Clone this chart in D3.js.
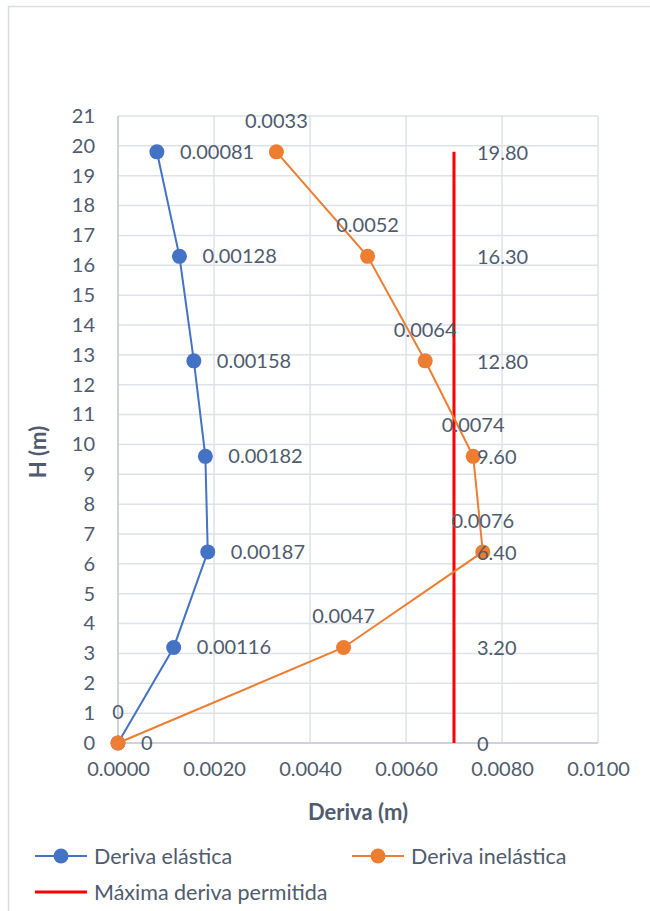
<!DOCTYPE html>
<html><head><meta charset="utf-8">
<script src="https://cdn.jsdelivr.net/npm/d3@7"></script>
<style>body{margin:0;background:#fff;} svg{display:block;}</style>
</head><body>
<svg id="c" width="650" height="911"></svg>
<script>
const heights = [0, 3.2, 6.4, 9.6, 12.8, 16.3, 19.8];
const derivaElastica = [0, 0.00116, 0.00187, 0.00182, 0.00158, 0.00128, 0.00081];
const derivaInelastica = [0, 0.0047, 0.0076, 0.0074, 0.0064, 0.0052, 0.0033];
const derivaMaxima = 0.007;
const elasticLabels = ["0", "0.00116", "0.00187", "0.00182", "0.00158", "0.00128", "0.00081"];
const inelasticLabels = ["0", "0.0047", "0.0076", "0.0074", "0.0064", "0.0052", "0.0033"];
const maxLabels = ["0", "3.20", "6.40", "9.60", "12.80", "16.30", "19.80"];
const xTicks = [0, 0.002, 0.004, 0.006, 0.008, 0.010];
const yTicks = d3.range(0, 22);
const seriesNames = ["Deriva elástica", "Deriva inelástica", "Máxima deriva permitida"];

const FONT = "Lato, 'Open Sans', sans-serif";
const TXT = "#4f5b6e";
const BLUE = "#4472c4", ORANGE = "#ed7d31", RED = "#ff0000";

const svg = d3.select("#c");
svg.append("rect").attr("x", 8.5).attr("y", 6.5).attr("width", 700).attr("height", 1000)
  .attr("fill", "#fff").attr("stroke", "#d9dde3").attr("stroke-width", 1.5);

const x = d3.scaleLinear().domain([0, 0.01]).range([118, 598]);
const y = d3.scaleLinear().domain([0, 21]).range([743, 116]);

// gridlines
const g = svg.append("g");
g.selectAll(".hg").data(yTicks).join("line")
  .attr("x1", x(0)).attr("x2", x(0.01)).attr("y1", d => y(d)).attr("y2", d => y(d))
  .attr("stroke", "#dde1e8").attr("stroke-width", 1.5);
g.selectAll(".vg").data(xTicks).join("line")
  .attr("x1", d => x(d)).attr("x2", d => x(d)).attr("y1", y(0)).attr("y2", y(21))
  .attr("stroke", "#dde1e8").attr("stroke-width", 1.5);
// axis lines
svg.append("line").attr("x1", x(0)).attr("x2", x(0)).attr("y1", y(0)).attr("y2", y(21))
  .attr("stroke", "#c5cbd5").attr("stroke-width", 1.5);
svg.append("line").attr("x1", x(0)).attr("x2", x(0.01)).attr("y1", y(0)).attr("y2", y(0))
  .attr("stroke", "#c5cbd5").attr("stroke-width", 1.5);

// axes tick labels
const xAxis = d3.axisBottom(x).tickValues(xTicks).tickFormat(d3.format(".4f")).tickSize(0).tickPadding(19);
const xa = svg.append("g").attr("transform", `translate(0,${y(0)})`).call(xAxis);
xa.select(".domain").remove();
xa.selectAll("text").attr("font-family", FONT).attr("font-size", 20).attr("fill", TXT);

const yAxis = d3.axisLeft(y).tickValues(yTicks).tickFormat(d3.format("d")).tickSize(0).tickPadding(23);
const ya = svg.append("g").attr("transform", `translate(${x(0)},0)`).call(yAxis);
ya.select(".domain").remove();
ya.selectAll("text").attr("font-family", FONT).attr("font-size", 20).attr("fill", TXT);

// axis titles
svg.append("text").attr("x", (x(0) + x(0.01)) / 2).attr("y", 820).attr("text-anchor", "middle")
  .attr("font-family", FONT).attr("font-size", 22).attr("font-weight", "bold").attr("fill", TXT).text("Deriva (m)");
svg.append("text").attr("transform", "translate(46,452) rotate(-90)").attr("text-anchor", "middle")
  .attr("font-family", FONT).attr("font-size", 22).attr("font-weight", "bold").attr("fill", TXT).text("H (m)");

// red line
const maxPts = heights.map(h => [derivaMaxima, h]);
svg.append("path").datum(maxPts)
  .attr("d", d3.line().x(d => x(d[0])).y(d => y(d[1])))
  .attr("fill", "none").attr("stroke", RED).attr("stroke-width", 3);

// series
const line = d3.line().x(d => x(d[0])).y(d => y(d[1]));
const el = derivaElastica.map((v, i) => [v, heights[i]]);
const inel = derivaInelastica.map((v, i) => [v, heights[i]]);

svg.append("path").datum(el).attr("d", line).attr("fill", "none").attr("stroke", BLUE).attr("stroke-width", 2);
svg.selectAll(".pe").data(el).join("circle").attr("cx", d => x(d[0])).attr("cy", d => y(d[1])).attr("r", 7.5).attr("fill", BLUE);

svg.append("path").datum(inel).attr("d", line).attr("fill", "none").attr("stroke", ORANGE).attr("stroke-width", 2);
svg.selectAll(".pi").data(inel).join("circle").attr("cx", d => x(d[0])).attr("cy", d => y(d[1])).attr("r", 7.5).attr("fill", ORANGE);

// data labels
const lbl = svg.append("g").attr("font-family", FONT).attr("font-size", 20).attr("fill", TXT);
lbl.selectAll(".le").data(el).join("text")
  .attr("x", d => x(d[0]) + 23).attr("y", d => y(d[1])).attr("dy", "0.35em")
  .text((d, i) => elasticLabels[i]);
lbl.selectAll(".li").data(inel).join("text")
  .attr("x", d => x(d[0])).attr("y", d => y(d[1]) - 31).attr("dy", "0.35em").attr("text-anchor", "middle")
  .text((d, i) => inelasticLabels[i]);
lbl.selectAll(".lm").data(maxPts).join("text")
  .attr("x", d => x(d[0]) + 23).attr("y", d => y(d[1]) + 1).attr("dy", "0.35em")
  .text((d, i) => maxLabels[i]);

// legend
const leg = svg.append("g");
const legItems = [
  {name: seriesNames[0], color: BLUE, marker: true, lx: 35, ly: 856},
  {name: seriesNames[1], color: ORANGE, marker: true, lx: 352, ly: 856},
  {name: seriesNames[2], color: RED, marker: false, lx: 35, ly: 892}
];
legItems.forEach(it => {
  leg.append("line").attr("x1", it.lx).attr("x2", it.lx + 52).attr("y1", it.ly).attr("y2", it.ly)
    .attr("stroke", it.color).attr("stroke-width", it.marker ? 2 : 3);
  if (it.marker) leg.append("circle").attr("cx", it.lx + 26).attr("cy", it.ly).attr("r", 7.5).attr("fill", it.color);
  leg.append("text").attr("x", it.lx + 59).attr("y", it.ly).attr("dy", "0.35em")
    .attr("font-family", FONT).attr("font-size", 21.5).attr("fill", TXT).text(it.name);
});
</script>
</body></html>
